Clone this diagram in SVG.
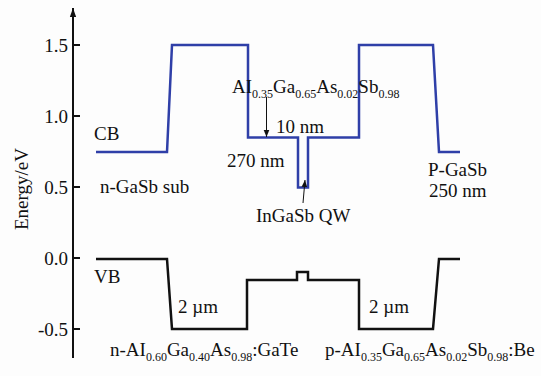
<svg xmlns="http://www.w3.org/2000/svg" width="541" height="376" viewBox="0 0 541 376">
<style>
text{font-family:"Liberation Serif","Times New Roman",serif;font-size:19px;fill:#111}
.sub{font-size:12px}
.tick{text-anchor:end}
.cb{fill:none;stroke:#2f3fa8;stroke-width:2.5;stroke-linejoin:miter}
.vb{fill:none;stroke:#111;stroke-width:2.5}
.ax{fill:none;stroke:#111;stroke-width:2}
.arr{fill:none;stroke:#111;stroke-width:1}
</style>
<defs>
<marker id="ah" viewBox="0 0 10 10" refX="10" refY="5" markerWidth="7" markerHeight="7" orient="auto" markerUnits="userSpaceOnUse">
<path d="M0,1 L10,5 L0,9 Z" fill="#111"/>
</marker>
<marker id="axh" viewBox="0 0 10 10" refX="10" refY="5" markerWidth="9" markerHeight="9" orient="auto" markerUnits="userSpaceOnUse">
<path d="M0,1.5 L10,5 L0,8.5 Z" fill="#111"/>
</marker>
</defs>
<rect width="541" height="376" fill="#fdfdfd"/>
<g id="axis">
<line class="ax" x1="73" y1="358" x2="73" y2="8" marker-end="url(#axh)"/>
<line class="ax" x1="73" y1="45" x2="80" y2="45"/>
<line class="ax" x1="73" y1="116" x2="80" y2="116"/>
<line class="ax" x1="73" y1="187" x2="80" y2="187"/>
<line class="ax" x1="73" y1="258" x2="80" y2="258"/>
<line class="ax" x1="73" y1="329" x2="80" y2="329"/>
<text class="tick" x="68" y="52">1.5</text>
<text class="tick" x="68" y="123">1.0</text>
<text class="tick" x="68" y="194">0.5</text>
<text class="tick" x="68" y="265">0.0</text>
<text class="tick" x="68" y="336">-0.5</text>
<text x="28" y="189" text-anchor="middle" transform="rotate(-90 28 189)">Energy/eV</text>
</g>
<g id="connectors">
<path id="cb-line" class="cb" d="M96,152 H167 L172,45 H248 V137.5 H298 V187.5 H308 V137.5 H359 V45 H433 L439,152 H460"/>
<path id="vb-line" class="vb" d="M96,259 H167 L172,329 H247 V280 H297 V272 H308 V280 H359 V329 H433 L439,259 H460"/>
<line class="arr" x1="266.5" y1="97" x2="266.5" y2="137" marker-end="url(#ah)"/>
<line class="arr" x1="303" y1="203" x2="305" y2="180" marker-end="url(#ah)"/>
</g>
<g id="labels">
<text x="94" y="140">CB</text>
<text x="94" y="283">VB</text>
<text x="100" y="193">n-GaSb sub</text>
<text x="232" y="93">AI<tspan class="sub" dy="5">0.35</tspan><tspan dy="-5">Ga</tspan><tspan class="sub" dy="5">0.65</tspan><tspan dy="-5">As</tspan><tspan class="sub" dy="5">0.02</tspan><tspan dy="-5">Sb</tspan><tspan class="sub" dy="5">0.98</tspan></text>
<text x="276" y="133">10 nm</text>
<text x="227" y="167">270 nm</text>
<text x="256" y="222">InGaSb QW</text>
<text x="428" y="176">P-GaSb</text>
<text x="429" y="197">250 nm</text>
<text x="178" y="313">2 µm</text>
<text x="369" y="313">2 µm</text>
<text x="110" y="356">n-AI<tspan class="sub" dy="5">0.60</tspan><tspan dy="-5">Ga</tspan><tspan class="sub" dy="5">0.40</tspan><tspan dy="-5">As</tspan><tspan class="sub" dy="5">0.98</tspan><tspan dy="-5">:GaTe</tspan></text>
<text x="325" y="356">p-AI<tspan class="sub" dy="5">0.35</tspan><tspan dy="-5">Ga</tspan><tspan class="sub" dy="5">0.65</tspan><tspan dy="-5">As</tspan><tspan class="sub" dy="5">0.02</tspan><tspan dy="-5">Sb</tspan><tspan class="sub" dy="5">0.98</tspan><tspan dy="-5">:Be</tspan></text>
</g>
</svg>
